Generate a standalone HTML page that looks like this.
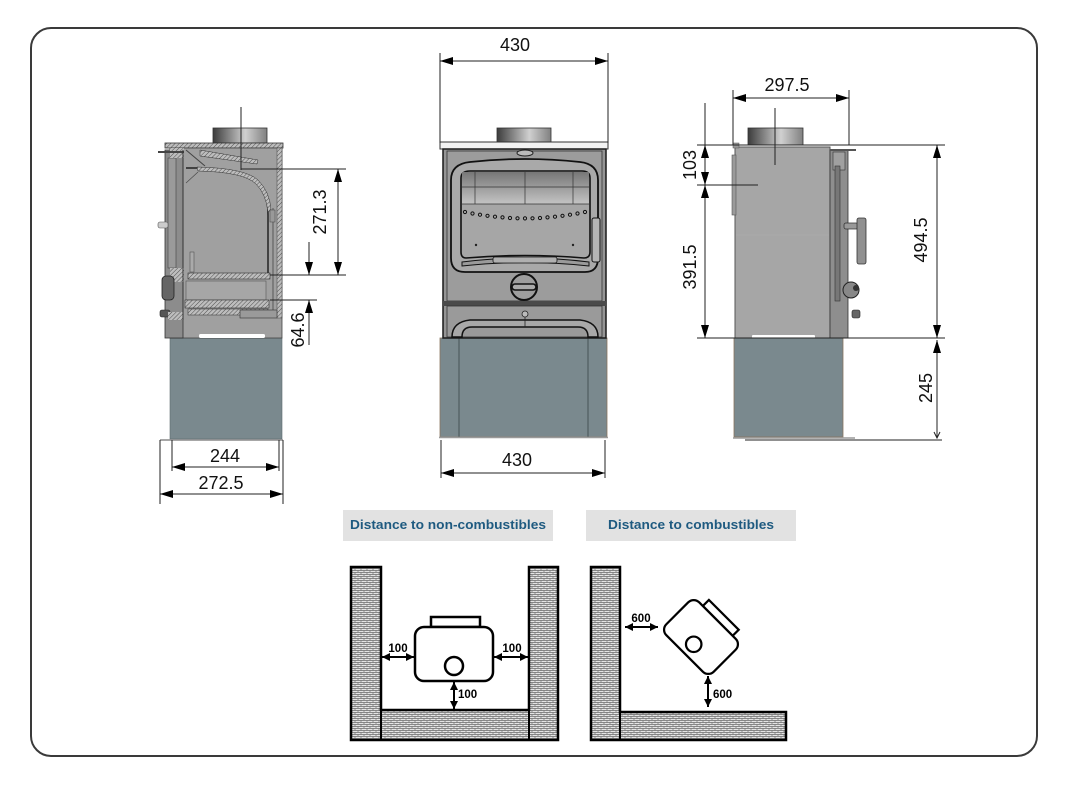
<!DOCTYPE html>
<html>
<head>
<meta charset="utf-8">
<style>
html,body{margin:0;padding:0;background:#fff;}
svg{display:block;}
text{font-family:"Liberation Sans",sans-serif;}
</style>
</head>
<body>
<svg width="1068" height="790" viewBox="0 0 1068 790" xmlns="http://www.w3.org/2000/svg">
<defs>
<marker id="a" markerUnits="userSpaceOnUse" markerWidth="13" markerHeight="8" refX="13" refY="4" orient="auto-start-reverse"><path d="M0,0L13,4L0,8z" fill="#000"/></marker>
<marker id="b" markerUnits="userSpaceOnUse" markerWidth="8" markerHeight="8" refX="8" refY="4" orient="auto-start-reverse"><path d="M0,0L8,4L0,8z" fill="#000"/></marker>
<linearGradient id="flue" x1="0" x2="1"><stop offset="0" stop-color="#3c3c3c"/><stop offset="0.6" stop-color="#d0d0d0"/><stop offset="1" stop-color="#808080"/></linearGradient>
<linearGradient id="glass" x1="0" y1="0" x2="0" y2="1"><stop offset="0" stop-color="#777"/><stop offset="1" stop-color="#c4c4c4"/></linearGradient>
<pattern id="brick" width="6" height="4" patternUnits="userSpaceOnUse"><rect width="6" height="4" fill="#e4e4e4"/><path d="M0,0.5H6M0,2.5H6M1,0.5V2.5M4,2.5V4.5" stroke="#6a6a6a" stroke-width="0.7"/></pattern>
<pattern id="hatch" width="3" height="3" patternUnits="userSpaceOnUse" patternTransform="rotate(45)"><rect width="3" height="3" fill="#bdbdbd"/><path d="M0,0V3" stroke="#333" stroke-width="0.8"/></pattern>
</defs>

<!-- outer frame -->
<rect x="31" y="28" width="1006" height="728" rx="20" ry="20" fill="none" stroke="#3a3a3a" stroke-width="2"/>

<!-- ================= LEFT SIDE (section) VIEW ================= -->
<rect x="170" y="338" width="112" height="101" fill="#7a898e" stroke="#5d6a6e" stroke-width="0.6"/>
<line x1="160" y1="440" x2="283" y2="440" stroke="#8a8a8a" stroke-width="1.5"/>
<rect x="213" y="128" width="54" height="15" fill="url(#flue)" stroke="#333" stroke-width="0.8"/>
<rect x="165" y="143" width="118" height="5" fill="url(#hatch)" stroke="#333" stroke-width="0.8"/>
<rect x="170" y="148" width="112" height="190" fill="#a0a0a0" stroke="#444" stroke-width="0.8"/>
<!-- front door area (left) -->
<rect x="165" y="150" width="18" height="188" fill="#8c8c8c" stroke="#333" stroke-width="0.8"/>
<rect x="168" y="158" width="8" height="110" fill="#9a9a9a" stroke="#444" stroke-width="0.6"/>
<rect x="170" y="148" width="14" height="10" fill="url(#hatch)"/>
<rect x="170" y="268" width="14" height="14" fill="url(#hatch)"/>
<line x1="158" y1="152" x2="184" y2="152" stroke="#444" stroke-width="2"/>
<rect x="158" y="222" width="10" height="6" rx="2" fill="#ccc" stroke="#555" stroke-width="0.6"/>
<rect x="162" y="276" width="12" height="24" rx="4" fill="#666" stroke="#222" stroke-width="0.8"/>
<rect x="160" y="310" width="10" height="7" rx="2" fill="#555" stroke="#222" stroke-width="0.6"/>
<rect x="168" y="312" width="15" height="8" fill="url(#hatch)"/>
<!-- inner firebox -->
<line x1="183" y1="150" x2="183" y2="320" stroke="#333" stroke-width="1"/>
<path d="M186,168 L200,168 Q245,170 258,182 Q268,192 268,215 L268,275" fill="none" stroke="#222" stroke-width="1.5"/>
<path d="M197,167 Q245,168 258,180 Q270,192 271,210 L268,212 Q266,194 256,184 Q244,172 198,171 Z" fill="url(#hatch)" stroke="#333" stroke-width="0.5"/>
<path d="M200,150 L258,160 L257,164 L200,156 Z" fill="url(#hatch)" stroke="#333" stroke-width="0.5"/>
<line x1="186" y1="150" x2="205" y2="166" stroke="#444" stroke-width="1"/>
<line x1="186" y1="183" x2="198" y2="172" stroke="#444" stroke-width="0.6"/>
<rect x="277" y="148" width="5" height="170" fill="url(#hatch)" stroke="#444" stroke-width="0.5"/>
<line x1="273" y1="208" x2="273" y2="318" stroke="#444" stroke-width="0.8"/>
<rect x="270" y="210" width="5" height="12" fill="#999" stroke="#444" stroke-width="0.5"/>
<rect x="190" y="252" width="4" height="20" fill="#aaa" stroke="#444" stroke-width="0.5"/>
<rect x="188" y="273" width="82" height="6" fill="url(#hatch)" stroke="#333" stroke-width="0.6"/>
<rect x="186" y="281" width="80" height="19" fill="#a6a6a6" stroke="#555" stroke-width="0.6"/>
<rect x="185" y="300" width="84" height="8" fill="url(#hatch)" stroke="#333" stroke-width="0.6"/>
<rect x="188" y="309" width="80" height="6" fill="url(#hatch)" stroke="#333" stroke-width="0.5"/>
<rect x="240" y="310" width="37" height="8" fill="#9a9a9a" stroke="#333" stroke-width="0.6"/>
<rect x="199" y="334" width="66" height="4" rx="1.5" fill="#fff"/>
<!-- center line -->
<line x1="241" y1="107" x2="241" y2="170" stroke="#222" stroke-width="1"/>
<!-- dims left -->
<g stroke="#222" stroke-width="1" fill="none">
<line x1="241" y1="169" x2="346" y2="169"/>
<line x1="270" y1="275" x2="346" y2="275"/>
<line x1="270" y1="300" x2="317" y2="300"/>
<line x1="338" y1="169" x2="338" y2="275" marker-start="url(#a)" marker-end="url(#a)"/>
<line x1="309" y1="242" x2="309" y2="275" marker-end="url(#a)"/>
<line x1="309" y1="345" x2="309" y2="300" marker-end="url(#a)"/>
<line x1="172" y1="440" x2="172" y2="471"/>
<line x1="279" y1="440" x2="279" y2="471"/>
<line x1="160" y1="440" x2="160" y2="504"/>
<line x1="283" y1="440" x2="283" y2="504"/>
<line x1="172" y1="467" x2="279" y2="467" marker-start="url(#a)" marker-end="url(#a)"/>
<line x1="160" y1="494" x2="283" y2="494" marker-start="url(#a)" marker-end="url(#a)"/>
</g>
<text x="320" y="218" font-size="18" fill="#111" text-anchor="middle" transform="rotate(-90 320 212)">271.3</text>
<text x="298" y="336" font-size="18" fill="#111" text-anchor="middle" transform="rotate(-90 298 330)">64.6</text>
<text x="225" y="462" font-size="18" fill="#111" text-anchor="middle">244</text>
<text x="221" y="489" font-size="18" fill="#111" text-anchor="middle">272.5</text>

<!-- ================= FRONT VIEW ================= -->
<rect x="440" y="338" width="167" height="99" fill="#7a898e" stroke="#8a7560" stroke-width="0.8"/>
<line x1="459" y1="338" x2="459" y2="437" stroke="#3a4548" stroke-width="0.8"/>
<line x1="588" y1="338" x2="588" y2="437" stroke="#3a4548" stroke-width="0.8"/>
<line x1="439" y1="437.5" x2="608" y2="437.5" stroke="#9a9a9a" stroke-width="1.5"/>
<rect x="497" y="128" width="54" height="15" fill="url(#flue)" stroke="#333" stroke-width="0.8"/>
<rect x="440" y="142" width="168" height="7" fill="#f2f2f2" stroke="#333" stroke-width="1"/>
<rect x="443" y="149" width="163" height="189" fill="#959595" stroke="#1a1a1a" stroke-width="1.5"/>
<rect x="447" y="151" width="155" height="150" fill="#9c9c9c" stroke="#333" stroke-width="0.8"/>
<ellipse cx="525" cy="153" rx="8" ry="3" fill="#bbb" stroke="#222" stroke-width="1"/>
<rect x="443" y="301" width="163" height="5" fill="#4a4a4a"/>
<rect x="447" y="306" width="155" height="31" fill="#9a9a9a" stroke="#333" stroke-width="0.8"/>
<!-- door -->
<path d="M451,180 Q451,164 470,162 Q525,156 580,162 Q598,164 598,180 L598,258 Q598,272 585,272 L465,272 Q451,272 451,258 Z" fill="#a9a9a9" stroke="#111" stroke-width="1.8"/>
<path d="M461,178 Q461,171 470,171 L582,171 Q590,171 590,178 L590,252 Q590,258 584,258 Q525,253 466,258 Q461,258 461,252 Z" fill="#a6a6a6" stroke="#111" stroke-width="1.6"/>
<rect x="462" y="172" width="127" height="32" fill="url(#glass)"/>
<g stroke="#333" stroke-width="0.7">
<line x1="462" y1="187" x2="589" y2="187"/>
<line x1="462" y1="204" x2="589" y2="204"/>
<line x1="475" y1="172" x2="475" y2="204"/>
<line x1="525" y1="172" x2="525" y2="204"/>
<line x1="573" y1="172" x2="573" y2="204"/>
</g>
<g fill="none" stroke="#111" stroke-width="1">
<circle cx="465" cy="212" r="1.6"/><circle cx="472.5" cy="213.5" r="1.6"/><circle cx="480" cy="214.7" r="1.6"/><circle cx="487.5" cy="215.8" r="1.6"/><circle cx="495" cy="216.7" r="1.6"/><circle cx="502.5" cy="217.4" r="1.6"/><circle cx="510" cy="218" r="1.6"/><circle cx="517.5" cy="218.3" r="1.6"/><circle cx="525" cy="218.4" r="1.6"/><circle cx="532.5" cy="218.3" r="1.6"/><circle cx="540" cy="218" r="1.6"/><circle cx="547.5" cy="217.4" r="1.6"/><circle cx="555" cy="216.7" r="1.6"/><circle cx="562.5" cy="215.8" r="1.6"/><circle cx="570" cy="214.7" r="1.6"/><circle cx="577.5" cy="213.5" r="1.6"/><circle cx="585" cy="212" r="1.6"/>
</g>
<circle cx="476" cy="245" r="1.2" fill="#222"/><circle cx="573" cy="245" r="1.2" fill="#222"/>
<path d="M462,262 Q525,254 589,262 L589,266 Q525,259 462,266 Z" fill="#9a9a9a" stroke="#111" stroke-width="1"/>
<rect x="493" y="257" width="64" height="6" rx="2" fill="#b0b0b0" stroke="#111" stroke-width="0.8"/>
<rect x="592" y="218" width="8" height="44" rx="2" fill="#b5b5b5" stroke="#111" stroke-width="1"/>
<circle cx="524" cy="287" r="13" fill="#9e9e9e" stroke="#111" stroke-width="2"/>
<rect x="512" y="284" width="24" height="6" rx="3" fill="#aaa" stroke="#111" stroke-width="1.6"/>
<!-- ash pan -->
<path d="M452,337 Q452,322 470,320 L580,320 Q598,322 598,337 L588,337 Q588,327 578,327 L472,327 Q462,327 462,337 Z" fill="#a8a8a8" stroke="#111" stroke-width="1.5"/>
<line x1="525" y1="317" x2="525" y2="327" stroke="#222" stroke-width="0.8"/>
<circle cx="525" cy="314" r="3" fill="#bbb" stroke="#222" stroke-width="0.8"/>
<!-- dims front -->
<g stroke="#222" stroke-width="1" fill="none">
<line x1="440" y1="53" x2="440" y2="143"/>
<line x1="608" y1="53" x2="608" y2="143"/>
<line x1="440" y1="61" x2="608" y2="61" marker-start="url(#a)" marker-end="url(#a)"/>
<line x1="441" y1="440" x2="441" y2="478"/>
<line x1="605" y1="440" x2="605" y2="478"/>
<line x1="441" y1="473" x2="605" y2="473" marker-start="url(#a)" marker-end="url(#a)"/>
</g>
<text x="515" y="51" font-size="18" fill="#111" text-anchor="middle">430</text>
<text x="517" y="466" font-size="18" fill="#111" text-anchor="middle">430</text>

<!-- ================= RIGHT SIDE VIEW ================= -->
<rect x="734" y="338" width="109" height="99" fill="#7a898e" stroke="#8a7560" stroke-width="0.8"/>
<line x1="733" y1="438" x2="855" y2="438" stroke="#9a9a9a" stroke-width="1.5"/>
<rect x="748" y="128" width="55" height="17" fill="url(#flue)" stroke="#333" stroke-width="0.8"/>
<rect x="735" y="147" width="95" height="191" fill="#a6a6a6" stroke="#555" stroke-width="1"/>
<line x1="736" y1="235" x2="829" y2="235" stroke="#ababab" stroke-width="1"/>
<rect x="732" y="155" width="4" height="60" fill="#9a9a9a" stroke="#555" stroke-width="0.6"/>
<rect x="733" y="143" width="6" height="5" fill="#999" stroke="#555" stroke-width="0.5"/>
<rect x="752" y="335" width="63" height="3" rx="1" fill="#fff"/>
<rect x="830" y="150" width="18" height="188" fill="#8e8e8e" stroke="#333" stroke-width="0.8"/>
<rect x="833" y="152" width="12" height="18" fill="#a0a0a0" stroke="#333" stroke-width="0.6"/>
<line x1="830" y1="150" x2="856" y2="150" stroke="#555" stroke-width="2"/>
<rect x="835" y="166" width="5" height="135" fill="#777" stroke="#333" stroke-width="0.6"/>
<rect x="844" y="223" width="14" height="6" rx="2" fill="#999" stroke="#333" stroke-width="0.8"/>
<rect x="857" y="218" width="9" height="46" rx="2" fill="#909090" stroke="#333" stroke-width="0.8"/>
<circle cx="851" cy="290" r="8" fill="#888" stroke="#222" stroke-width="1"/>
<circle cx="856" cy="288" r="3" fill="#333"/>
<rect x="852" y="310" width="8" height="8" rx="2" fill="#666" stroke="#222" stroke-width="0.6"/>
<line x1="775" y1="108" x2="775" y2="165" stroke="#222" stroke-width="1"/>
<!-- dims right -->
<g stroke="#222" stroke-width="1" fill="none">
<line x1="733" y1="90" x2="733" y2="145"/>
<line x1="849" y1="90" x2="849" y2="145"/>
<line x1="733" y1="98" x2="849" y2="98" marker-start="url(#a)" marker-end="url(#a)"/>
<line x1="697" y1="145" x2="945" y2="145"/>
<line x1="697" y1="338" x2="945" y2="338"/>
<line x1="697" y1="185" x2="758" y2="185"/>
<line x1="705" y1="103" x2="705" y2="145"/>
<line x1="705" y1="145" x2="705" y2="185" marker-start="url(#a)" marker-end="url(#a)"/>
<line x1="705" y1="185" x2="705" y2="338" marker-start="url(#a)" marker-end="url(#a)"/>
<line x1="937" y1="145" x2="937" y2="338" marker-start="url(#a)" marker-end="url(#a)"/>
<line x1="937" y1="340" x2="937" y2="438" marker-start="url(#a)"/>
<line x1="745" y1="440" x2="942" y2="440"/>
</g>
<path d="M934,432 L937,438 L940,432" fill="none" stroke="#222" stroke-width="1"/>
<text x="787" y="91" font-size="18" fill="#111" text-anchor="middle">297.5</text>
<text x="690" y="171" font-size="18" fill="#111" text-anchor="middle" transform="rotate(-90 690 165)">103</text>
<text x="690" y="273" font-size="18" fill="#111" text-anchor="middle" transform="rotate(-90 690 267)">391.5</text>
<text x="921" y="246" font-size="18" fill="#111" text-anchor="middle" transform="rotate(-90 921 240)">494.5</text>
<text x="926" y="394" font-size="18" fill="#111" text-anchor="middle" transform="rotate(-90 926 388)">245</text>

<!-- ================= CLEARANCE LABELS ================= -->
<rect x="343" y="510" width="210" height="31" fill="#e2e2e2"/>
<text x="448" y="529" font-size="12.5" font-weight="bold" fill="#1e5a80" text-anchor="middle" textLength="196" lengthAdjust="spacingAndGlyphs">Distance to non-combustibles</text>
<rect x="586" y="510" width="210" height="31" fill="#e2e2e2"/>
<text x="691" y="529" font-size="12.5" font-weight="bold" fill="#1e5a80" text-anchor="middle" textLength="166" lengthAdjust="spacingAndGlyphs">Distance to combustibles</text>

<!-- non-combustibles diagram -->
<path d="M351,567 H381 V710 H529 V567 H558 V740 H351 Z" fill="url(#brick)" stroke="#000" stroke-width="2.5"/>
<line x1="381" y1="710" x2="381" y2="740" stroke="#000" stroke-width="2"/>
<line x1="529" y1="710" x2="529" y2="740" stroke="#000" stroke-width="2"/>
<rect x="431" y="617" width="49" height="10" fill="#fff" stroke="#000" stroke-width="2.5"/>
<rect x="415" y="627" width="78" height="54" rx="9" fill="#fff" stroke="#000" stroke-width="2.5"/>
<circle cx="454" cy="666" r="9" fill="#fff" stroke="#000" stroke-width="2.5"/>
<g stroke="#000" stroke-width="2">
<line x1="382" y1="657" x2="414" y2="657" marker-start="url(#b)" marker-end="url(#b)"/>
<line x1="494" y1="657" x2="528" y2="657" marker-start="url(#b)" marker-end="url(#b)"/>
<line x1="454" y1="682" x2="454" y2="709" marker-start="url(#b)" marker-end="url(#b)"/>
</g>
<text x="398" y="652" font-size="11.5" font-weight="bold" fill="#000" text-anchor="middle">100</text>
<text x="512" y="652" font-size="11.5" font-weight="bold" fill="#000" text-anchor="middle">100</text>
<text x="458" y="698" font-size="11.5" font-weight="bold" fill="#000">100</text>

<!-- combustibles diagram -->
<path d="M591,567 H620 V712 H786 V740 H591 Z" fill="url(#brick)" stroke="#000" stroke-width="2.5"/>
<line x1="620" y1="712" x2="620" y2="740" stroke="#000" stroke-width="2"/>
<g transform="translate(701,637) rotate(45) scale(0.86)">
<rect x="-24" y="-37" width="49" height="10" fill="#fff" stroke="#000" stroke-width="2.6"/>
<rect x="-39" y="-27" width="78" height="54" rx="9" fill="#fff" stroke="#000" stroke-width="2.6"/>
<circle cx="0" cy="12" r="9" fill="#fff" stroke="#000" stroke-width="2.6"/>
</g>
<g stroke="#000" stroke-width="2">
<line x1="625" y1="627" x2="658" y2="627" marker-start="url(#b)" marker-end="url(#b)"/>
<line x1="708" y1="676" x2="708" y2="707" marker-start="url(#b)" marker-end="url(#b)"/>
</g>
<text x="641" y="622" font-size="11.5" font-weight="bold" fill="#000" text-anchor="middle">600</text>
<text x="713" y="698" font-size="11.5" font-weight="bold" fill="#000">600</text>
</svg>
</body>
</html>
